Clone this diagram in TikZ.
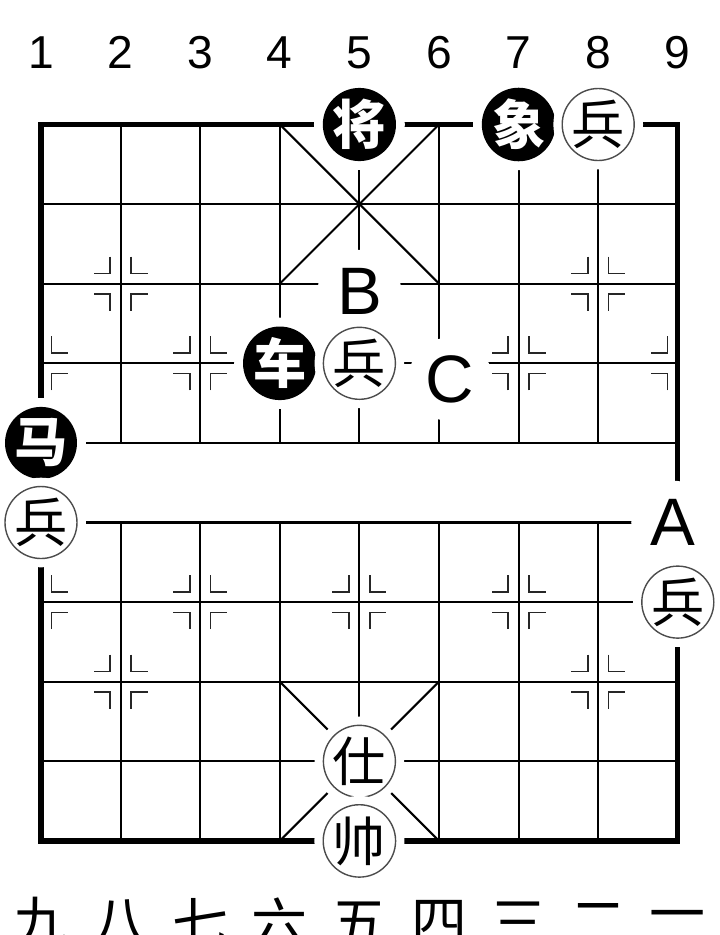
\documentclass[tikz,border=0pt]{standalone}
\usepackage{fontspec}
\setmainfont{Liberation Sans}
\newfontfamily\cjk{Noto Sans CJK SC}
\usetikzlibrary{positioning}

\begin{document}
\begin{tikzpicture}[
  grid/.style={line width=0.75pt},
  border/.style={line width=1.9pt},
  posmark/.style={line width=0.6pt,black!85},
  piece/.style={circle,minimum size=0.85cm,inner sep=0pt,
    preaction={draw=white,line width=6.3pt}},
  redpiece/.style={piece,draw=black!70,line width=0.5pt,fill=white,
    font=\cjk\fontsize{19}{19}\selectfont},
  blackpiece/.style={piece,fill=black,text=white,
    font=\cjk\bfseries\fontsize{19}{19}\selectfont},
  letter/.style={circle,fill=white,minimum size=1.05cm,inner sep=0pt,
    font=\fontsize{24}{24}\selectfont},
  colnum/.style={font=\fontsize{16.5}{18}\selectfont},
  rownum/.style={font=\cjk\fontsize{20}{20}\selectfont}
]
  \useasboundingbox (-0.515,1.564) rectangle (8.530,-10.182);

  % Grid lines
  \foreach \y in {-1,...,-8}
    \draw[grid] (0,\y) -- (8,\y);
  \foreach \x in {1,...,7}
    {
      \draw[grid] (\x,0) -- (\x,-4);
      \draw[grid] (\x,-5) -- (\x,-9);
    }
  \draw[border] (0,0) rectangle (8,-9);

  % Palaces
  \draw[grid] (3,0) -- (5,-2);
  \draw[grid] (5,0) -- (3,-2);
  \draw[grid] (3,-7) -- (5,-9);
  \draw[grid] (5,-7) -- (3,-9);

  % Position marks
  \foreach \x/\y in {1/-2,7/-2,2/-3,6/-3,2/-6,4/-6,6/-6,1/-7,7/-7}
    \foreach \sx in {-1,1}
      \foreach \sy in {-1,1}
        \draw[posmark,shift={(\x,\y)},xscale=\sx,yscale=\sy]
          (0.13,0.34) -- (0.13,0.13) -- (0.34,0.13);
  \foreach \x/\y/\sx in {0/-3/1,8/-3/-1,0/-6/1}
    \foreach \sy in {-1,1}
      \draw[posmark,shift={(\x,\y)},xscale=\sx,yscale=\sy]
        (0.13,0.34) -- (0.13,0.13) -- (0.34,0.13);

  % Labels
  \node[letter] (B) at (4,-2.1) {B};
  \node[letter] (C) at (5.14,-3.2) {C};
  \node[letter] (A) at (7.94,-5.0) {A};

  % Pieces
  \node[blackpiece] (jiang) at (4,0) {将};
  \node[blackpiece] (xiang) at (6,0) {象};
  \node[redpiece] (bing1) at (7,0) {兵};
  \node[blackpiece] (che) at (3,-3) {车};
  \node[redpiece] (bing2) at (4,-3) {兵};
  \node[blackpiece] (ma) at (0,-4) {马};
  \node[redpiece] (bing3) at (0,-5) {兵};
  \node[redpiece] (bing4) at (8,-6) {兵};
  \node[redpiece] (shi) at (4,-8) {仕};
  \node[redpiece] (shuai) at (4,-9) {帅};

  % File numbers
  \foreach \n in {1,...,9}
    \node[colnum] (top\n) at (\n-1,0.9) {\n};
  \foreach \n [count=\i from 0] in {九,八,七,六,五,四,三,二,一}
    \node[rownum] (bot\i) at (\i,-10.03) {\n};
\end{tikzpicture}
\end{document}
